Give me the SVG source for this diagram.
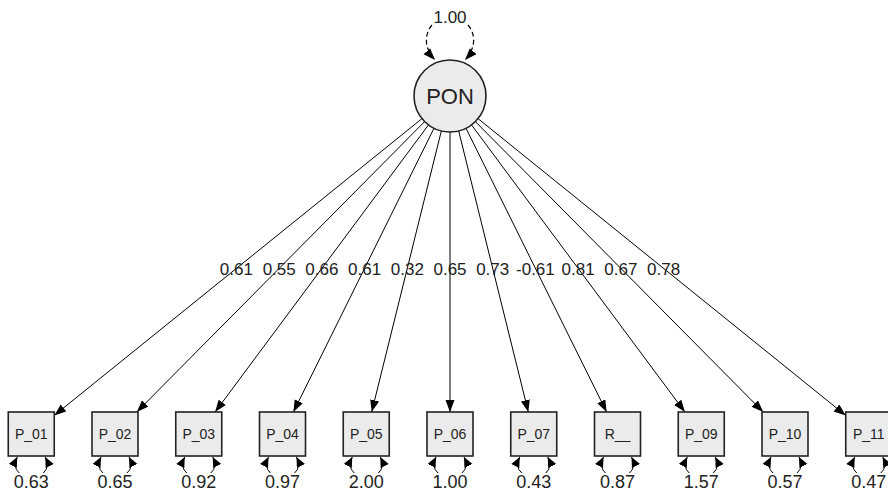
<svg xmlns="http://www.w3.org/2000/svg" width="888" height="494" viewBox="0 0 888 494">
<defs>
<marker id="ah" markerUnits="userSpaceOnUse" markerWidth="13" markerHeight="10" refX="12" refY="4.5" orient="auto"><path d="M0,0 L12,4.5 L0,9 z" fill="#000"/></marker>
<marker id="ahs" markerUnits="userSpaceOnUse" markerWidth="11" markerHeight="10" refX="10" refY="4.5" orient="auto"><path d="M0,0 L10,4.5 L0,9 z" fill="#000"/></marker>
<style>
.box{fill:#ebebeb;stroke:#222;stroke-width:1.6}
.lat{fill:#ebebeb;stroke:#222;stroke-width:1.6}
.ln{stroke:#000;stroke-width:1;fill:none;marker-end:url(#ah)}
.res{stroke:#000;stroke-width:1;fill:none;marker-end:url(#ahs)}
.loop{stroke:#000;stroke-width:1.2;fill:none;stroke-dasharray:5,3;marker-end:url(#ah)}
text{font-family:"Liberation Sans",Arial,sans-serif;fill:#222;text-anchor:middle}
.bl{font-size:14px}
.num{font-size:17px}
.rv{font-size:18px}
</style>
</defs>
<rect width="888" height="494" fill="#fff"/>
<g id="connectors">
<path class="ln" d="M421.98,118.61 L54.25,415.43"/>
<path class="ln" d="M424.66,121.57 L136.8,412"/>
<path class="ln" d="M428.53,124.89 L215.11,412"/>
<path class="ln" d="M434.01,128.26 L293.4,412"/>
<path class="ln" d="M441.34,130.95 L371.7,412"/>
<path class="ln" d="M450,132 L450,412"/>
<path class="ln" d="M458.66,130.95 L528.3,412"/>
<path class="ln" d="M465.99,128.26 L606.6,412"/>
<path class="ln" d="M471.47,124.89 L684.89,412"/>
<path class="ln" d="M475.34,121.57 L763.2,412"/>
<path class="ln" d="M478.02,118.61 L845.75,415.43"/>
<path class="loop" d="M432,25 C425,33 423,47 435,60"/>
<path class="loop" d="M468,25 C475,33 477,47 465,60"/>
</g>
<g id="labels" class="num">
<text x="450" y="23">1.00</text>
<text x="236.4" y="275">0.61</text>
<text x="279.2" y="275">0.55</text>
<text x="321.9" y="275">0.66</text>
<text x="364.6" y="275">0.61</text>
<text x="407.3" y="275">0.32</text>
<text x="450" y="275">0.65</text>
<text x="492.7" y="275">0.73</text>
<text x="535.4" y="275">-0.61</text>
<text x="578.1" y="275">0.81</text>
<text x="620.8" y="275">0.67</text>
<text x="663.6" y="275">0.78</text>
</g>
<g id="PON">
<circle class="lat" cx="450" cy="96" r="36"/>
<text x="450" y="104" style="font-size:22px">PON</text>
</g>
<g id="P_01" transform="translate(31.25,0)">
<rect class="box" x="-23" y="412" width="46" height="44"/><text class="bl" x="0" y="439">P_01</text>
<path class="res" d="M-12,473 Q-19,467 -14,457"/><path class="res" d="M12,473 Q19,467 14,457"/>
<text class="rv" x="0" y="488">0.63</text>
</g>
<g id="P_02" transform="translate(115,0)">
<rect class="box" x="-23" y="412" width="46" height="44"/><text class="bl" x="0" y="439">P_02</text>
<path class="res" d="M-12,473 Q-19,467 -14,457"/><path class="res" d="M12,473 Q19,467 14,457"/>
<text class="rv" x="0" y="488">0.65</text>
</g>
<g id="P_03" transform="translate(198.75,0)">
<rect class="box" x="-23" y="412" width="46" height="44"/><text class="bl" x="0" y="439">P_03</text>
<path class="res" d="M-12,473 Q-19,467 -14,457"/><path class="res" d="M12,473 Q19,467 14,457"/>
<text class="rv" x="0" y="488">0.92</text>
</g>
<g id="P_04" transform="translate(282.5,0)">
<rect class="box" x="-23" y="412" width="46" height="44"/><text class="bl" x="0" y="439">P_04</text>
<path class="res" d="M-12,473 Q-19,467 -14,457"/><path class="res" d="M12,473 Q19,467 14,457"/>
<text class="rv" x="0" y="488">0.97</text>
</g>
<g id="P_05" transform="translate(366.25,0)">
<rect class="box" x="-23" y="412" width="46" height="44"/><text class="bl" x="0" y="439">P_05</text>
<path class="res" d="M-12,473 Q-19,467 -14,457"/><path class="res" d="M12,473 Q19,467 14,457"/>
<text class="rv" x="0" y="488">2.00</text>
</g>
<g id="P_06" transform="translate(450,0)">
<rect class="box" x="-23" y="412" width="46" height="44"/><text class="bl" x="0" y="439">P_06</text>
<path class="res" d="M-12,473 Q-19,467 -14,457"/><path class="res" d="M12,473 Q19,467 14,457"/>
<text class="rv" x="0" y="488">1.00</text>
</g>
<g id="P_07" transform="translate(533.75,0)">
<rect class="box" x="-23" y="412" width="46" height="44"/><text class="bl" x="0" y="439">P_07</text>
<path class="res" d="M-12,473 Q-19,467 -14,457"/><path class="res" d="M12,473 Q19,467 14,457"/>
<text class="rv" x="0" y="488">0.43</text>
</g>
<g id="R__" transform="translate(617.5,0)">
<rect class="box" x="-23" y="412" width="46" height="44"/><text class="bl" x="0" y="439">R__</text>
<path class="res" d="M-12,473 Q-19,467 -14,457"/><path class="res" d="M12,473 Q19,467 14,457"/>
<text class="rv" x="0" y="488">0.87</text>
</g>
<g id="P_09" transform="translate(701.25,0)">
<rect class="box" x="-23" y="412" width="46" height="44"/><text class="bl" x="0" y="439">P_09</text>
<path class="res" d="M-12,473 Q-19,467 -14,457"/><path class="res" d="M12,473 Q19,467 14,457"/>
<text class="rv" x="0" y="488">1.57</text>
</g>
<g id="P_10" transform="translate(785,0)">
<rect class="box" x="-23" y="412" width="46" height="44"/><text class="bl" x="0" y="439">P_10</text>
<path class="res" d="M-12,473 Q-19,467 -14,457"/><path class="res" d="M12,473 Q19,467 14,457"/>
<text class="rv" x="0" y="488">0.57</text>
</g>
<g id="P_11" transform="translate(868.75,0)">
<rect class="box" x="-23" y="412" width="46" height="44"/><text class="bl" x="0" y="439">P_11</text>
<path class="res" d="M-12,473 Q-19,467 -14,457"/><path class="res" d="M12,473 Q19,467 14,457"/>
<text class="rv" x="0" y="488">0.47</text>
</g>
</svg>
